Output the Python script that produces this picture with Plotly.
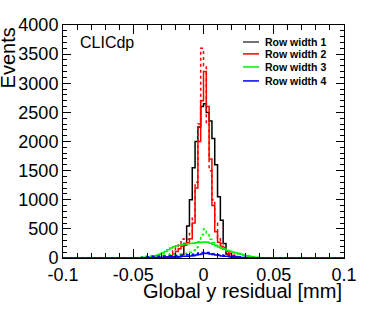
import numpy as np
import plotly.graph_objects as go

# ---- data (histograms, 100 bins of 0.002 mm from -0.1 to 0.1) ----
X_MIN, X_MAX, N_BINS = -0.1, 0.1, 100

# each series: lower edge of first non-empty bin, then bin contents
black_start = -0.018
black_solid = [20, 60, 250, 550, 1000, 1550, 2000, 2250, 2600, 2650, 2500, 2350,
               2050, 1600, 1050, 650, 250, 70, 20]

red_start = -0.030
red_solid = [5, 10, 20, 40, 70, 110, 160, 200, 220, 260, 330, 600, 1200, 2000, 2700,
             3200, 2600, 1700, 900, 450, 270, 200, 150, 110, 70, 40, 25, 12, 5]
red_dotted = [10, 20, 40, 70, 120, 180, 250, 320, 330, 320, 420, 700, 1300, 2300, 3600,
              3300, 2300, 1500, 1000, 600, 350, 250, 180, 120, 80, 50, 30, 15, 8]

green_start = -0.046
green_solid = [5, 8, 12, 18, 25, 35, 48, 65, 85, 110, 140, 170, 195, 210, 220,
               230, 240, 245, 250, 255, 260, 265, 270, 275, 270, 255, 235, 210, 190, 170,
               150, 130, 115, 100, 90, 80, 65, 50, 38, 28, 20, 14, 9, 5, 3]
green_dotted = [10, 20, 30, 35, 40, 40, 40, 45, 45, 50, 50, 55, 60, 60, 65,
                70, 75, 85, 100, 130, 180, 280, 400, 500, 430, 320, 260, 220, 190, 170,
                150, 130, 115, 100, 85, 70, 55, 45, 35, 25, 18, 12, 8, 5]

blue_solid_start = -0.042
blue_solid = [3, 5, 6, 8, 10, 12, 14, 16, 18, 20, 22, 24, 26, 28, 30, 32, 35, 40, 50, 60,
              70, 80, 78, 70, 60, 50, 42, 36, 32, 28, 24, 20, 16, 13, 10, 8, 6, 4, 3, 2]
blue_dotted_start = -0.046
blue_dotted = [5, 10, 15, 20, 25, 28, 30, 32, 34, 36, 38, 40, 42, 44, 46, 48, 50, 55, 60, 65,
               75, 85, 95, 100, 95, 85, 75, 65, 55, 50, 45, 40, 35, 30, 25, 20, 15, 10, 7, 5, 3]

legend_labels = ["Row width 1", "Row width 2", "Row width 3", "Row width 4"]
colors = ["#000000", "#ff0000", "#00ee00", "#0000ff"]

x_tick_vals = [-0.1, -0.05, 0, 0.05, 0.1]
x_tick_text = ["-0.1", "-0.05", "0", "0.05", "0.1"]

# ---- build histogram arrays ----
edges = np.linspace(X_MIN, X_MAX, N_BINS + 1)
bw = (X_MAX - X_MIN) / N_BINS


def hist(start, vals):
    h = np.zeros(N_BINS)
    i0 = int(round((start - X_MIN) / bw))
    h[i0:i0 + len(vals)] = vals
    return h


def step_xy(h):
    return edges, np.append(h, h[-1])


series = [
    (hist(black_start, black_solid), colors[0], "solid"),
    (hist(red_start, red_dotted), colors[1], "dot"),
    (hist(red_start, red_solid), colors[1], "solid"),
    (hist(green_start, green_dotted), colors[2], "dot"),
    (hist(green_start, green_solid), colors[2], "solid"),
    (hist(blue_dotted_start, blue_dotted), colors[3], "dot"),
    (hist(blue_solid_start, blue_solid), colors[3], "solid"),
]

fig = go.Figure()
for h, c, d in series:
    x, y = step_xy(h)
    fig.add_trace(go.Scatter(x=x, y=y, mode="lines", line=dict(color=c, width=1.5, dash=d, shape="hv"),
                             showlegend=False, hoverinfo="skip"))

FONT = "Liberation Sans, Arial, Helvetica, sans-serif"

fig.update_layout(
    width=374, height=316,
    margin=dict(l=63, r=30, t=25, b=58),
    plot_bgcolor="white", paper_bgcolor="white",
    font=dict(family=FONT, size=18, color="black"),
    showlegend=False,
)
fig.update_xaxes(
    range=[X_MIN, X_MAX], tickvals=x_tick_vals, ticktext=x_tick_text,
    ticks="inside", ticklen=9, tickwidth=1, tickcolor="black",
    showline=True, linecolor="black", linewidth=1, mirror="ticks",
    showgrid=False, zeroline=False,
    minor=dict(dtick=0.01, tick0=0, ticks="inside", ticklen=5, tickcolor="black", showgrid=False),
)
fig.update_yaxes(
    range=[0, 4000], dtick=500, tick0=0,
    ticks="inside", ticklen=8, tickwidth=1, tickcolor="black",
    showline=True, linecolor="black", linewidth=1, mirror="ticks",
    showgrid=False, zeroline=False,
    minor=dict(dtick=100, tick0=0, ticks="inside", ticklen=4, tickcolor="black", showgrid=False),
)

# axis titles
fig.add_annotation(text="Global y residual [mm]", xref="paper", yref="paper", x=1.0, y=-0.142,
                   xanchor="right", yanchor="middle", showarrow=False, font=dict(size=20, family=FONT))
fig.add_annotation(text="Events", xref="paper", yref="paper", x=-0.196, y=1.0, textangle=-90,
                   xanchor="center", yanchor="top", showarrow=False, font=dict(size=20, family=FONT))
fig.add_annotation(text="CLICdp", xref="paper", yref="paper", x=0.053, y=0.923,
                   xanchor="left", yanchor="middle", showarrow=False, font=dict(size=16, family=FONT))

# legend
leg_y = [0.927, 0.876, 0.820, 0.760]
for lab, c, yy in zip(legend_labels, colors, leg_y):
    fig.add_shape(type="line", xref="paper", yref="paper", x0=0.6406, x1=0.6975, y0=yy, y1=yy,
                  line=dict(color=c if c != "#000000" else "#444444", width=1.5))
    fig.add_annotation(text="<b>" + lab + "</b>", xref="paper", yref="paper", x=0.712, y=yy,
                       xanchor="left", yanchor="middle", showarrow=False,
                       font=dict(size=10.5, family=FONT))

fig.write_html("out.html", config={"displayModeBar": False},
               post_script="document.body.style.margin='0';")
